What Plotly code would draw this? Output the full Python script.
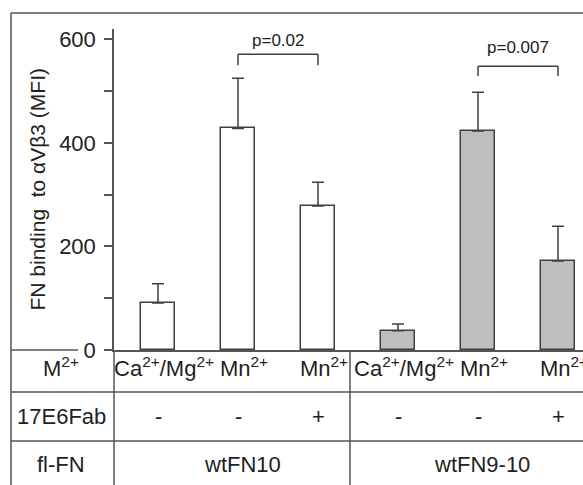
import plotly.graph_objects as go

# ---- data ----
conditions = ["wtFN10 Ca/Mg -", "wtFN10 Mn -", "wtFN10 Mn +",
              "wtFN9-10 Ca/Mg -", "wtFN9-10 Mn -", "wtFN9-10 Mn +"]
metal_labels = ["Ca<sup>2+</sup>/Mg<sup>2+</sup>", "Mn<sup>2+</sup>", "Mn<sup>2+</sup>",
                "Ca<sup>2+</sup>/Mg<sup>2+</sup>", "Mn<sup>2+</sup>", "Mn<sup>2+</sup>"]
fab_labels = ["-", "-", "+", "-", "-", "+"]
group_names = ["wtFN10", "wtFN9-10"]
group_centers = [1, 4]
row_names = ["M<sup>2+</sup>", "17E6Fab", "fl-FN"]
mfi_mean = [91, 428, 278, 37, 423, 172]
mfi_err = [37, 97, 46, 13, 75, 67]
p_texts = ["p=0.02", "p=0.007"]
p_pairs = [(1, 2), (4, 5)]
p_bracket_top = [571, 548]
p_bracket_bottom = [550, 529]
p_text_y = [598, 585]
y_major = [0, 200, 400, 600]

# ---- styling ----
W, H = 583, 485
FONT = "Liberation Sans, Arial, Helvetica, sans-serif"
LINE = "#555555"
BAR_LINE = "#404040"
fills = ["#ffffff"] * 3 + ["#bebebe"] * 3


def px(x):
    return x / W


def py(y):
    return 1 - y / H


fig = go.Figure()
fig.add_trace(go.Bar(
    x=conditions, y=mfi_mean, width=0.425,
    marker=dict(color=fills, line=dict(color=BAR_LINE, width=1.5)),
    error_y=dict(type="data", array=mfi_err, arrayminus=[0] * len(mfi_err),
                 symmetric=False, color=BAR_LINE, thickness=1.5, width=6),
    showlegend=False, hoverinfo="skip",
))

shapes = []


def seg(x0, y0, x1, y1, xref="paper", yref="paper", color=LINE, width=1.5):
    shapes.append(dict(type="line", x0=x0, y0=y0, x1=x1, y1=y1, xref=xref, yref=yref,
                       line=dict(color=color, width=width), layer="above"))


# frame
seg(px(11), py(13), 1, py(13))
seg(px(11), py(13), px(11), 0)
# zero line left part
seg(px(11), py(350), px(78), py(350))
# table lines
seg(px(11), py(392), 1, py(392))
seg(px(11), py(441), 1, py(441))
seg(px(114), py(350), px(114), 0)
seg(px(350), py(350), px(350), 0)

annotations = []
# brackets
for (a, b), top, bot, txt, ty in zip(p_pairs, p_bracket_top, p_bracket_bottom, p_texts, p_text_y):
    seg(a, bot, a, top, "x", "y", BAR_LINE, 1.5)
    seg(a, top, b, top, "x", "y", BAR_LINE, 1.5)
    seg(b, top, b, bot, "x", "y", BAR_LINE, 1.5)
    annotations.append(dict(x=(a + b) / 2, y=ty, xref="x", yref="y", text=txt,
                            xanchor="center", yanchor="middle",
                            showarrow=False, font=dict(size=17, color="#222", family=FONT)))

TF = dict(size=22, color="#222", family=FONT)
row_y = [py(367), py(416.5), py(464.5)]
for name, yy in zip(row_names, row_y):
    annotations.append(dict(x=px(61), y=yy, xref="paper", yref="paper", text=name,
                            xanchor="center", yanchor="middle",
                            showarrow=False, font=TF))
for i, (m, f) in enumerate(zip(metal_labels, fab_labels)):
    annotations.append(dict(x=i, y=row_y[0], xref="x", yref="paper", text=m,
                            xanchor="center", yanchor="middle", xshift=6,
                            showarrow=False, font=TF))
    annotations.append(dict(x=i, y=row_y[1], xref="x", yref="paper", text=f,
                            xanchor="center", yanchor="middle",
                            showarrow=False, font=TF))
for g, c in zip(group_names, group_centers):
    annotations.append(dict(x=c, y=row_y[2], xref="x", yref="paper", text=g,
                            xanchor="center", yanchor="middle", xshift=4,
                            showarrow=False, font=TF))

# y-axis title
annotations.append(dict(x=px(37), y=py(189.5), xref="paper", yref="paper",
                        text="FN binding  to \u03b1V\u03b23 (MFI)", textangle=-90,
                        xanchor="center", yanchor="middle",
                        showarrow=False, font=dict(size=21, color="#222", family=FONT)))

fig.update_layout(
    width=W, height=H, margin=dict(l=0, r=0, t=0, b=0, pad=0), autosize=False,
    paper_bgcolor="white", plot_bgcolor="white",
    font=dict(family=FONT, color="#222"),
    bargap=0,
    xaxis=dict(domain=[px(114), 1], range=[-0.55, 5.3125], type="category",
               showticklabels=False, ticks="", showgrid=False, zeroline=False, automargin=False,
               showline=True, linecolor=LINE, linewidth=1.5, fixedrange=True),
    yaxis=dict(domain=[py(350), py(29)], range=[0, 620], tickvals=y_major,
               ticks="outside", ticklen=8, tickwidth=1.5, tickcolor=LINE, automargin=False,
               minor=dict(dtick=100, ticks="outside", ticklen=8, tickwidth=1.5, tickcolor=LINE),
               showgrid=False, zeroline=False, showline=True, linecolor=LINE, linewidth=1.5,
               tickfont=dict(size=22, color="#222", family=FONT), ticklabelstandoff=4,
               fixedrange=True),
    shapes=shapes, annotations=annotations,
)

POST = (
    "document.documentElement.style.margin='0';"
    "document.documentElement.style.overflow='hidden';"
    "document.body.style.margin='0';document.body.style.padding='0';"
    "document.body.style.overflow='hidden';"
    "var gd=document.getElementById('{plot_id}');"
    "gd.style.position='fixed';gd.style.left='0px';gd.style.top='0px';"
)
fig.write_html("out.html", config={"displayModeBar": False, "responsive": False},
               post_script=POST)
